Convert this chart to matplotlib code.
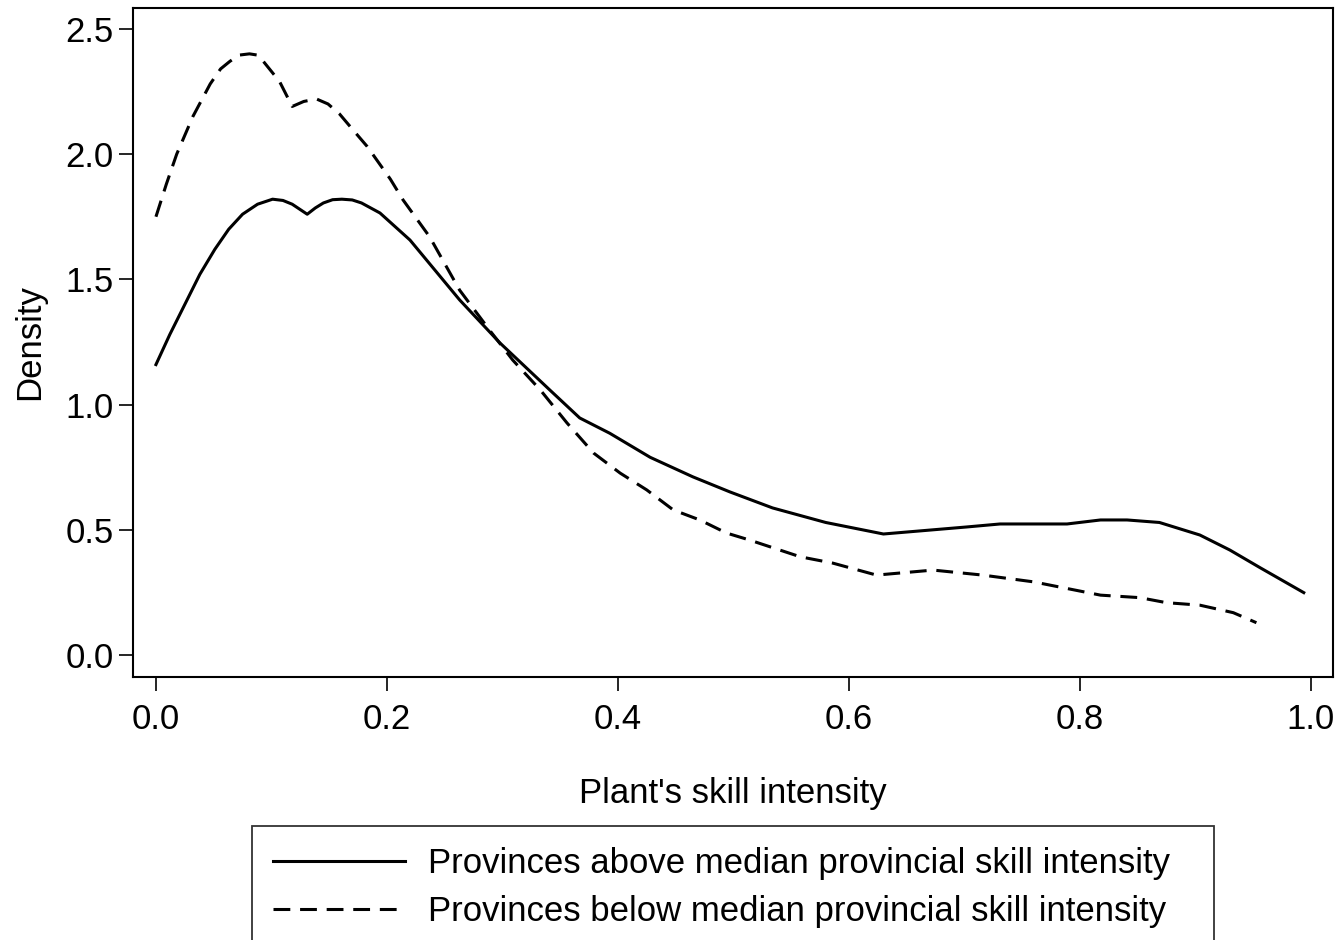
import matplotlib
matplotlib.use("Agg")
import matplotlib.pyplot as plt
import numpy as np

plt.rcParams['font.family'] = ['Liberation Sans', 'DejaVu Sans']

# kernel density curves
x_above = [0.0, 0.012, 0.025, 0.038, 0.051, 0.063, 0.075, 0.088, 0.101, 0.110, 0.118,
           0.131, 0.138, 0.145, 0.153, 0.161, 0.170, 0.178, 0.194,
           0.220, 0.263, 0.298, 0.341, 0.367, 0.393, 0.428, 0.465, 0.497, 0.534,
           0.580, 0.630, 0.702, 0.731, 0.789, 0.818, 0.841, 0.869, 0.904, 0.930, 0.956, 0.994]
y_above = [1.16, 1.28, 1.40, 1.52, 1.62, 1.70, 1.76, 1.80, 1.82, 1.815, 1.80,
           1.76, 1.785, 1.805, 1.818, 1.82, 1.817, 1.805, 1.765,
           1.657, 1.418, 1.246, 1.059, 0.947, 0.886, 0.79, 0.712, 0.652, 0.588,
           0.53, 0.484, 0.512, 0.524, 0.524, 0.54, 0.54, 0.53, 0.48, 0.42, 0.35, 0.25]

x_below = [0.0, 0.009, 0.018, 0.032, 0.047, 0.056, 0.064, 0.072, 0.081, 0.088, 0.093,
           0.100, 0.107, 0.118, 0.128, 0.139, 0.149, 0.159, 0.170, 0.183,
           0.203, 0.214, 0.237, 0.263, 0.289, 0.309, 0.333, 0.356, 0.379, 0.402,
           0.425, 0.448, 0.471, 0.494, 0.514, 0.558, 0.586, 0.624, 0.673, 0.716,
           0.760, 0.818, 0.852, 0.875, 0.904, 0.933, 0.953]
y_below = [1.75, 1.88, 2.00, 2.15, 2.28, 2.34, 2.37, 2.395, 2.40, 2.395, 2.37,
           2.33, 2.29, 2.19, 2.21, 2.22, 2.20, 2.16, 2.10, 2.03,
           1.90, 1.817, 1.67, 1.457, 1.297, 1.178, 1.058, 0.927, 0.807, 0.727,
           0.66, 0.58, 0.54, 0.488, 0.46, 0.393, 0.368, 0.320, 0.34, 0.320,
           0.293, 0.24, 0.23, 0.21, 0.20, 0.17, 0.13]

labels = ['Provinces above median provincial skill intensity',
          'Provinces below median provincial skill intensity']

fig = plt.figure(figsize=(13.39, 9.40), dpi=100)
ax = fig.add_axes([0.0993, 0.2798, 0.8962, 0.7117])

ax.plot(x_above, y_above, color='black', lw=2.2, label=labels[0])
ax.plot(x_below, y_below, color='black', lw=2.2, linestyle=(0, (5.5, 3.2)), label=labels[1])

ax.set_xlim(-0.0199, 1.0193)
ax.set_ylim(-0.0866, 2.583)
ax.set_xticks([0.0, 0.2, 0.4, 0.6, 0.8, 1.0])
ax.set_yticks([0.0, 0.5, 1.0, 1.5, 2.0, 2.5])
ax.set_xticklabels(['0.0', '0.2', '0.4', '0.6', '0.8', '1.0'])
ax.set_yticklabels(['0.0', '0.5', '1.0', '1.5', '2.0', '2.5'])
ax.tick_params(axis='x', length=10, width=1.2, labelsize=25, pad=9)
ax.tick_params(axis='y', length=10, width=1.2, labelsize=25, pad=4)
for s in ax.spines.values():
    s.set_linewidth(1.5)

ax.set_xlabel("Plant's skill intensity", fontsize=25, labelpad=29)
ax.set_ylabel('Density', fontsize=25, labelpad=14)

leg = fig.legend(loc='upper left', bbox_to_anchor=(252 / 1339, 1 - 826 / 940, 962 / 1339, 0.0),
                 mode='expand', fontsize=25, frameon=True, fancybox=False,
                 edgecolor='black', handlelength=3.8, handletextpad=0.66,
                 labelspacing=0.45, borderpad=0.6, borderaxespad=0.0)
leg.get_frame().set_linewidth(1.3)

fig.savefig('out.png', dpi=100)
